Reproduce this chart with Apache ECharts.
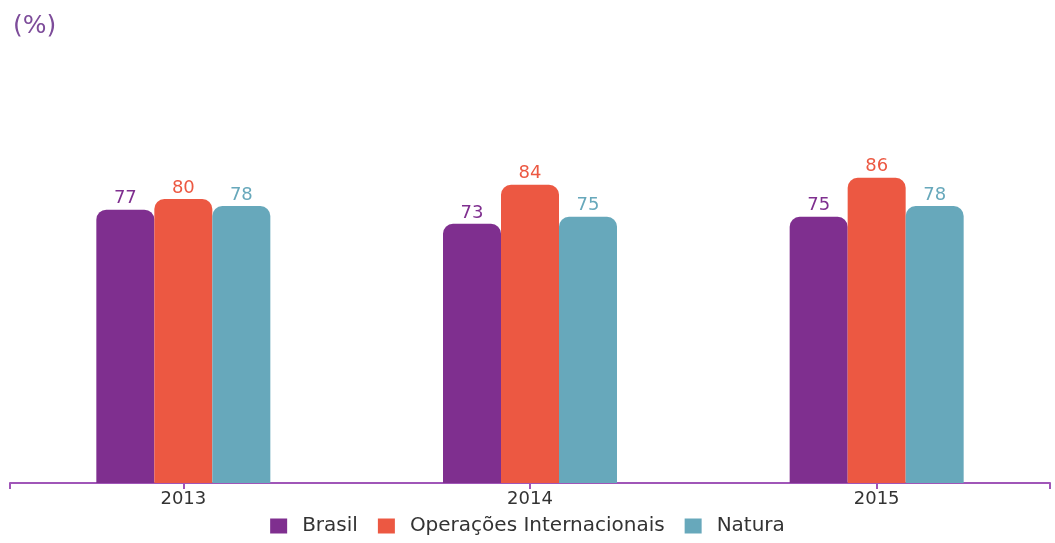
<!DOCTYPE html>
<html>
<head>
<meta charset="utf-8">
<title>Chart</title>
<script src="https://cdn.jsdelivr.net/npm/echarts@6/dist/echarts.min.js"></script>
<style>
  html, body { margin: 0; padding: 0; background: #fff; }
  #chart { width: 1055px; height: 543px; }
</style>
</head>
<body>
<div id="chart"></div>
<script>
// dados
var years = ['2013', '2014', '2015'];
var brasil = [77, 73, 75];
var internacionais = [80, 84, 86];
var natura = [78, 75, 78];

var fonte = 'DejaVu Sans, Verdana, sans-serif';
var corEixo = '#a056b8';

var chart = echarts.init(document.getElementById('chart'));

function barSeries(name, data, color) {
    return {
        name: name,
        type: 'bar',
        xAxisIndex: 0,
        barWidth: 58,
        barGap: '0%',
        itemStyle: { color: color, borderRadius: [10, 10, 0, 0] },
        label: {
            show: true,
            position: 'top',
            distance: 2,
            color: color,
            fontSize: 18,
            fontFamily: fonte
        },
        data: data
    };
}

var option = {
    animation: false,
    title: {
        text: '(%)',
        left: 8,
        top: 9,
        textStyle: { color: '#7d4c9a', fontSize: 25, fontWeight: 'normal', fontFamily: fonte }
    },
    legend: {
        bottom: 2,
        left: 'center',
        icon: 'rect',
        itemWidth: 17,
        itemHeight: 15,
        itemGap: 20,
        formatter: function (name) {
            return '{t|' + name + '}';
        },
        textStyle: {
            color: '#333',
            fontSize: 20,
            fontFamily: fonte,
            rich: { t: { fontSize: 20, fontFamily: fonte, color: '#333', padding: [0, 0, 0, 10] } }
        },
        data: ['Brasil', 'Operações Internacionais', 'Natura']
    },
    grid: { left: 10, right: 5, top: 128, bottom: 60 },
    xAxis: [{
        type: 'category',
        data: years,
        axisLine: { show: true, lineStyle: { color: corEixo, width: 2 } },
        axisTick: { show: true, alignWithLabel: true, length: 6, lineStyle: { color: corEixo, width: 2 } },
        axisLabel: { color: '#333', fontSize: 18, margin: 7, fontFamily: fonte }
    }, {
        // apenas para as marcas nas extremidades do eixo
        type: 'value',
        position: 'bottom',
        min: 0,
        max: 1,
        interval: 1,
        axisLine: { show: false },
        axisTick: { show: true, length: 6, lineStyle: { color: corEixo, width: 2 } },
        axisLabel: { show: false },
        splitLine: { show: false }
    }],
    yAxis: {
        type: 'value',
        min: 0,
        max: 100,
        show: false
    },
    series: [
        barSeries('Brasil', brasil, '#7f2f8f'),
        barSeries('Operações Internacionais', internacionais, '#ec5842'),
        barSeries('Natura', natura, '#67a8bb')
    ]
};
chart.setOption(option);
</script>
</body>
</html>
